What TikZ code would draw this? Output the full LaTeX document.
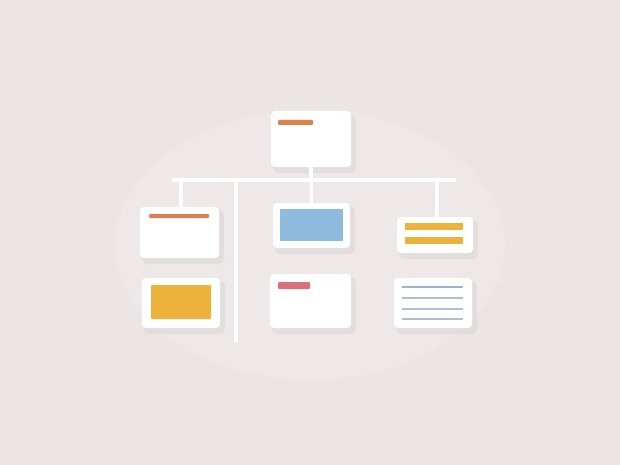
\documentclass[tikz,border=0pt]{standalone}
\usetikzlibrary{positioning}
\definecolor{bg}{HTML}{ECE5E5}
\definecolor{barorange}{HTML}{E07F4E}
\definecolor{boxblue}{HTML}{8EBBDB}
\definecolor{boxyellow}{HTML}{EDB23C}
\definecolor{barred}{HTML}{D9707A}
\definecolor{lineblue}{HTML}{93B6D2}
\definecolor{linegray}{HTML}{B0BFD0}
\definecolor{shade}{HTML}{CFC5C6}
\tikzset{
  card/.style={fill=white, rounded corners=4pt},
  cardshadow/.style={fill=shade, opacity=0.3, rounded corners=6pt},
  wire/.style={draw=white, line width=3.5pt},
}
\newcommand{\card}[5]{%
  \fill[cardshadow] (#2+2,#3+3) rectangle (#4+5,#5+6);
  \path[card] (#2,#3) rectangle (#4,#5);
  \node[inner sep=0, minimum width=#4-#2, minimum height=#5-#3] (#1) at ({(#2+#4)/2},{(#3+#5)/2}) {};
}
\begin{document}
\begin{tikzpicture}[x=1pt,y=-1pt]
\fill[bg] (0,0) rectangle (620,465);
\useasboundingbox (0,0) rectangle (620,465);
\fill[white, opacity=0.12] (310,245) ellipse [x radius=195, y radius=135];

% cards
\card{top}{271}{111}{351}{167}
\card{ml}{140}{207}{219}{258}
\card{mc}{273}{203}{350}{248}
\card{mr}{397}{217}{473}{253}
\card{bl}{142}{278}{220}{328}
\card{bc}{270}{274}{351}{328}
\card{br}{394}{278}{472}{328}

% wires
\coordinate (busL) at (172,180);
\coordinate (busR) at (456,180);
\coordinate (trunkTop) at (236,180);
\coordinate (trunkEnd) at (236,342);
\draw[wire] (busL) -- (busR);
\draw[wire] (trunkTop) -- (trunkEnd);
\draw[wire] (top.south) -- (top.south |- busL);
\draw[wire] (ml.north -| 181,0) -- (181,180);
\draw[wire] (mc.north) -- (mc.north |- busL);
\draw[wire] (mr.north -| 437,0) -- (437,180);

% contents
\fill[barorange, rounded corners=1pt] (278,120) rectangle (313,125);
\fill[barorange, rounded corners=1pt] (149,214) rectangle (209,218);
\fill[boxblue] (280,209) rectangle (343,241);
\fill[boxyellow] (405,223) rectangle (463,230);
\fill[boxyellow] (405,237) rectangle (463,244);
\fill[boxyellow, rounded corners=1pt] (151,285) rectangle (211,319);
\fill[barred, rounded corners=1pt] (278,282) rectangle (310,289);
\draw[lineblue, line width=2.5pt] (402,287) -- (463,287);
\draw[linegray, line width=2.2pt] (402,298) -- (463,298);
\draw[linegray, line width=2.2pt] (402,309) -- (463,309);
\draw[linegray, line width=2.2pt] (402,319) -- (463,319);
\end{tikzpicture}
\end{document}
